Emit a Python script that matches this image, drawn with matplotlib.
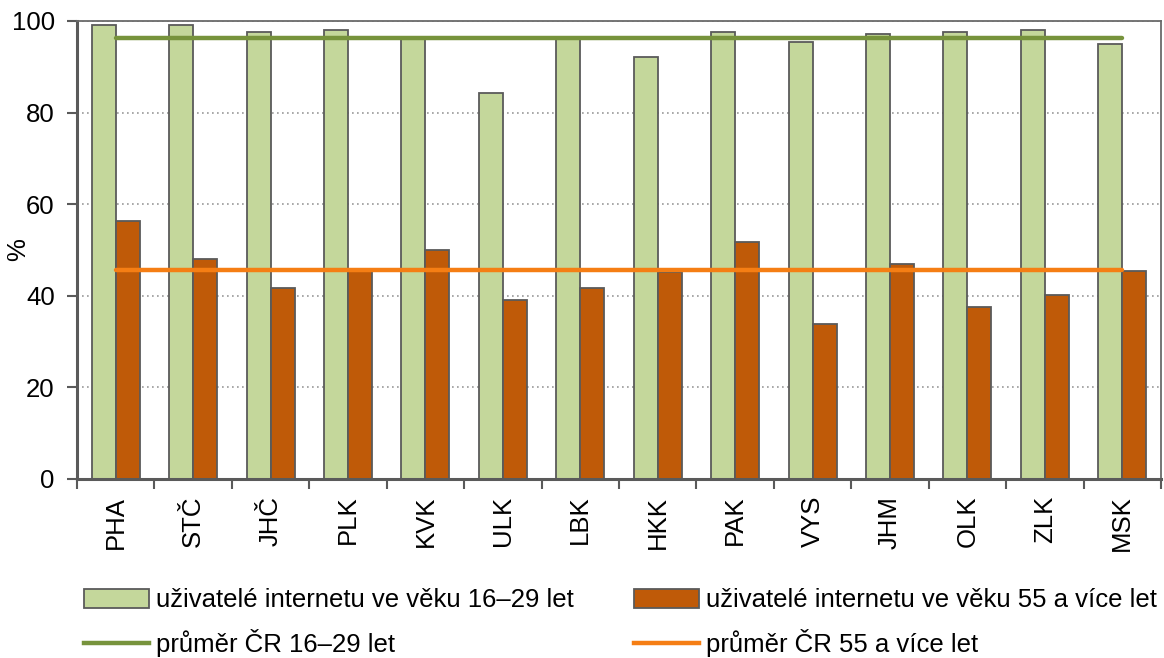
import numpy as np
import matplotlib.pyplot as plt
from matplotlib.patches import Patch
from matplotlib.lines import Line2D

plt.rcParams['font.family'] = ['Liberation Sans', 'DejaVu Sans']

# kraje a podíly uživatelů internetu (%)
kraje = ['PHA', 'STČ', 'JHČ', 'PLK', 'KVK', 'ULK', 'LBK',
         'HKK', 'PAK', 'VYS', 'JHM', 'OLK', 'ZLK', 'MSK']
mladi = [99.1, 99.1, 97.5, 98.0, 96.4, 84.3, 96.6,
         92.2, 97.5, 95.5, 97.1, 97.5, 98.0, 95.0]
starsi = [56.4, 48.0, 41.6, 45.9, 50.1, 39.1, 41.6,
          45.3, 51.7, 33.8, 46.9, 37.5, 40.2, 45.4]
prumer_mladi = 96.2
prumer_starsi = 45.6

c_zel = '#C4D79B'
c_ora = '#BF5A08'
c_zel_car = '#77933C'
c_ora_car = '#F57E14'
c_okraj = '#5A5A5A'
fs = 18.5

fig = plt.figure(figsize=(11.64, 6.58), dpi=100)
ax = fig.add_axes([77 / 1164, 1 - 479 / 658, (1161 - 77) / 1164, (479 - 21) / 658])

x = np.arange(len(kraje))
w = 0.31
ax.bar(x - w / 2, mladi, w, color=c_zel, edgecolor=c_okraj, linewidth=1.3, zorder=2)
ax.bar(x + w / 2, starsi, w, color=c_ora, edgecolor=c_okraj, linewidth=1.3, zorder=2)
ax.plot([x[0], x[-1]], [prumer_mladi] * 2, color=c_zel_car, lw=3.2, zorder=3,
        solid_capstyle='round')
ax.plot([x[0], x[-1]], [prumer_starsi] * 2, color=c_ora_car, lw=3.2, zorder=3,
        solid_capstyle='round')

ax.set_xlim(-0.5, len(kraje) - 0.5)
ax.set_ylim(0, 100)
ax.set_yticks(range(0, 101, 20))
ax.yaxis.grid(True, linestyle=(0, (1, 2)), color='#999999', lw=1.2, zorder=0)
ax.set_axisbelow(True)

ax.set_xticks(x)
ax.set_xticklabels(kraje, rotation=90, fontsize=fs)
ax.set_xticks(np.arange(-0.5, len(kraje)), minor=True)
ax.tick_params(axis='x', which='major', length=0, pad=12)
ax.tick_params(axis='x', which='minor', length=7, width=1.5, color=c_okraj, direction='out')
ax.tick_params(axis='y', labelsize=fs, length=7, width=1.5, color=c_okraj, pad=9)
ax.set_ylabel('%', fontsize=fs)
ax.yaxis.set_label_coords(-0.043, 0.5)

for s in ['left', 'bottom']:
    ax.spines[s].set_color(c_okraj)
    ax.spines[s].set_linewidth(2.2)
for s in ['top', 'right']:
    ax.spines[s].set_color('#6A6A6A')
    ax.spines[s].set_linewidth(1.3)

# legenda ve dvou sloupcích pod grafem
kw = dict(frameon=False, fontsize=fs, handlelength=2.5, handleheight=0.75,
          labelspacing=0.65, handletextpad=0.3, loc='upper left', borderaxespad=0)
leg1 = fig.legend([Patch(facecolor=c_zel, edgecolor=c_okraj, lw=1.3),
                   Line2D([], [], color=c_zel_car, lw=3.2)],
                  ['uživatelé internetu ve věku 16–29 let', 'průměr ČR 16–29 let'],
                  bbox_to_anchor=(74 / 1164, 1 - 578 / 658), **kw)
leg2 = fig.legend([Patch(facecolor=c_ora, edgecolor=c_okraj, lw=1.3),
                   Line2D([], [], color=c_ora_car, lw=3.2)],
                  ['uživatelé internetu ve věku 55 a více let', 'průměr ČR 55 a více let'],
                  bbox_to_anchor=(624 / 1164, 1 - 578 / 658), **kw)

fig.savefig('out.png', dpi=100)
